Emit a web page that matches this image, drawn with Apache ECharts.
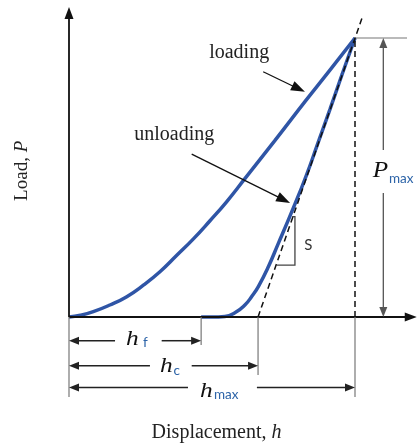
<!DOCTYPE html>
<html><head><meta charset="utf-8">
<script src="https://cdn.jsdelivr.net/npm/echarts@6/dist/echarts.min.js"></script>
<style>html,body{margin:0;padding:0;background:#fff}#c{width:417px;height:446px}</style>
</head><body><div id="c"></div>
<script>
// ---- data (normalised units: h_max = 100, P_max = 100) ----
const loadH   = [0, 4, 8.5, 14.3, 20.2, 26, 31.8, 37.6, 43.5, 49.3, 55.1, 61.5, 72.1, 82.5, 91.3, 100];
const loadP   = [0, 0.6, 1.9, 4.3, 7.3, 11.4, 16.2, 22.0, 28.0, 34.5, 41.3, 49.6, 63.4, 77.2, 88.6, 100];
const unloadH = [46.2, 50, 54.5, 58, 61.5, 64, 66.2, 69.7, 73.2, 76.7, 80.2, 83.1, 87, 91.3, 95.5, 100];
const unloadP = [0, 0, 0.2, 1.5, 4.3, 7.5, 10.9, 18.0, 26.4, 34.8, 43.5, 51.0, 62.2, 74.6, 87.0, 100];
const hF = 46.2, hC = 66.1, hMax = 100, pMax = 100;
const tangentTop = [102.4, 107];
const curveLabels = ['loading', 'unloading'];
const xTitle = ['Displacement, ', 'h'];
const yTitle = ['Load, ', 'P'];
const subLabels = ['f', 'c', 'max', 'max'];
const slopeLabel = 'S';

const loadData = loadH.map((h, i) => [h, loadP[i]]);
const unloadData = unloadH.map((h, i) => [h, unloadP[i]]);

const serif = '"Liberation Serif", "Times New Roman", serif';
const sans = 'Lato, "Liberation Sans", sans-serif';
const blue = '#2f55a6';
const subBlue = '#2d64a8';

const annos = [];
const L = (pts, c, w, dash) => annos.push({t: 'line', pts, c, w, dash});
const A = (from, to, c, w, len, wid) => annos.push({t: 'arrow', from, to, c, w, len, wid});
const T = (at, text, style, rot, rich, align, sx) => annos.push({t: 'text', at, text, style, rot, rich, align, sx});

// axes
A([0, 0], [0, 111.1], '#111', 1.8, 12, 9);
A([0, 0], [121.6, 0], '#111', 1.8, 12, 9);
// extension lines
L([[0, 0], [0, -28.67]], '#777', 1.2);
L([[hF, 0], [hF, -10.0]], '#777', 1.2);
L([[hC, 0], [hC, -20.8]], '#777', 1.2);
L([[hMax, 0], [hMax, -28.67]], '#777', 1.2);
L([[hMax, pMax], [118.2, pMax]], '#777', 1.2);
// dashed
L([[hMax, 0], [hMax, pMax]], '#111', 1.5, [6, 4]);
L([[hC, 0], tangentTop], '#111', 1.5, [6, 4]);
// dimension arrows
A([16.1, -8.5], [0, -8.5], '#222', 1.5, 10, 8);
A([32.4, -8.5], [hF, -8.5], '#222', 1.5, 10, 8);
A([28.3, -17.5], [0, -17.5], '#222', 1.5, 10, 8);
A([42.9, -17.5], [hC, -17.5], '#222', 1.5, 10, 8);
A([41.6, -25.3], [0, -25.3], '#222', 1.5, 10, 8);
A([65.7, -25.3], [hMax, -25.3], '#222', 1.5, 10, 8);
A([109.9, 59.9], [109.9, pMax], '#555', 1.3, 10, 8);
A([109.9, 44.4], [109.9, 0], '#555', 1.3, 10, 8);
// label arrows
A([67.9, 87.9], [82.5, 80.7], '#111', 1.3, 14, 10);
A([42.9, 58.4], [77.3, 40.9], '#111', 1.3, 14, 10);
// slope bracket
L([[78.0, 36.0], [79.0, 36.0], [79.0, 18.6], [72.4, 18.6]], '#444', 1.3);

// texts
const txt = {fontFamily: serif, fontSize: 20, fill: '#222'};
T([59.5, 94.8], curveLabels[0], txt);
T([36.8, 65.3], curveLabels[1], txt);
T([51.6, -41.4], '{n|' + xTitle[0] + '}{i|' + xTitle[1] + '}', {}, 0,
  {n: {fontFamily: serif, fontSize: 20, fill: '#222'}, i: {fontFamily: serif, fontSize: 20, fontStyle: 'italic', fill: '#222'}});
T([-16.6, 52.4], '{n|' + yTitle[0] + '}{i|' + yTitle[1] + '}', {}, Math.PI / 2,
  {n: {fontFamily: serif, fontSize: 19, fill: '#222'}, i: {fontFamily: serif, fontSize: 19, fontStyle: 'italic', fill: '#222'}});
const hSty = {fontFamily: serif, fontSize: 22, fontStyle: 'italic', fill: '#111'};
const sSty = {fontFamily: sans, fontSize: 13.5, fill: subBlue};
T([19.93, -7.85], 'h', hSty, 0, null, 'left', 1.15);
T([25.9, -9.14], subLabels[0], sSty, 0, null, 'left');
T([31.82, -17.74], 'h', hSty, 0, null, 'left', 1.15);
T([36.54, -19.35], subLabels[1], sSty, 0, null, 'left');
T([45.8, -26.7], 'h', hSty, 0, null, 'left', 1.15);
T([50.7, -27.96], subLabels[2], sSty, 0, null, 'left');
T([106.19, 52.62], 'P', {fontFamily: serif, fontSize: 24, fontStyle: 'italic', fill: '#111'}, 0, null, 'left', 1.05);
T([111.89, 49.46], subLabels[3], sSty, 0, null, 'left');
T([83.7, 25.8], slopeLabel, {fontFamily: sans, fontSize: 15, fill: '#333'});

function renderItem(params, api) {
  const a = annos[params.dataIndex];
  if (a.t === 'line') {
    const pts = a.pts.map(p => api.coord(p));
    return {type: 'polyline', shape: {points: pts},
      style: {stroke: a.c, lineWidth: a.w, lineDash: a.dash || null, fill: null}};
  }
  if (a.t === 'arrow') {
    const f = api.coord(a.from), t = api.coord(a.to);
    const dx = t[0] - f[0], dy = t[1] - f[1], len = Math.hypot(dx, dy);
    const ux = dx / len, uy = dy / len;
    const bx = t[0] - ux * a.len, by = t[1] - uy * a.len;
    const nx = -uy * a.wid / 2, ny = ux * a.wid / 2;
    return {type: 'group', children: [
      {type: 'line', shape: {x1: f[0], y1: f[1], x2: bx + ux, y2: by + uy}, style: {stroke: a.c, lineWidth: a.w}},
      {type: 'polygon', shape: {points: [[t[0], t[1]], [bx + nx, by + ny], [bx - nx, by - ny]]}, style: {fill: a.c}}
    ]};
  }
  const p = api.coord(a.at);
  const style = Object.assign({text: a.text, align: a.align || 'center', verticalAlign: 'middle'}, a.style);
  if (a.rich) style.rich = a.rich;
  return {type: 'text', x: p[0], y: p[1], rotation: a.rot || 0, scaleX: a.sx || 1, style};
}

const chart = echarts.init(document.getElementById('c'), null, {renderer: 'canvas'});
chart.setOption({
  animation: false,
  backgroundColor: '#fff',
  grid: {left: 0, right: 0, top: 0, bottom: 0},
  xAxis: {type: 'value', min: -24.126, max: 121.678, show: false},
  yAxis: {type: 'value', min: -46.237, max: 113.620, show: false},
  series: [
    {type: 'line', data: loadData, symbol: 'none', smooth: 0.5,
      lineStyle: {color: blue, width: 3.5}, z: 3},
    {type: 'line', data: unloadData, symbol: 'none', smooth: 0.5,
      lineStyle: {color: blue, width: 3.5}, z: 3},
    {type: 'custom', renderItem, data: annos.map((_, i) => [i, 0]), clip: false, silent: true, z: 4}
  ]
});
</script>
</body></html>
